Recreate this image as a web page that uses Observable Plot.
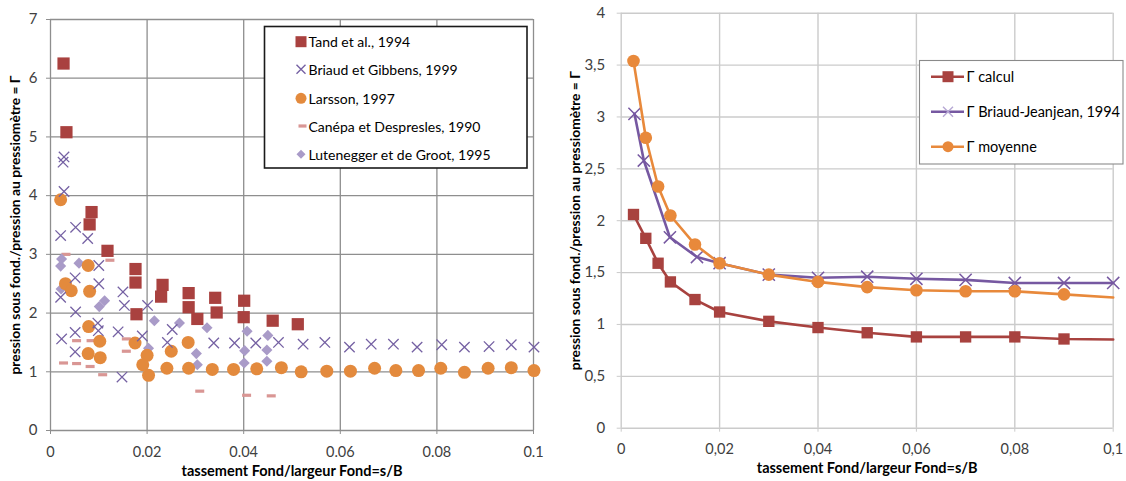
<!DOCTYPE html>
<html>
<head>
<meta charset="utf-8">
<script src="https://cdn.jsdelivr.net/npm/d3@7"></script>
<script src="https://cdn.jsdelivr.net/npm/@observablehq/plot@0.6"></script>
<style>
  html, body { margin: 0; padding: 0; background: #fff; }
  #wrap { position: relative; width: 1126px; height: 481px; overflow: hidden; font-family: Lato, sans-serif; }
  #wrap > div, #wrap > svg { position: absolute; }
</style>
</head>
<body>
<div id="wrap"></div>
<script>
// ---------- LEFT PANEL DATA (s/B, Γ) ----------
const tandX = [0.0027,0.0033,0.0081,0.0085,0.0118,0.0176,0.0176,0.0178,0.0232,0.0229,0.0286,0.0286,0.0304,0.0341,0.0344,0.0401,0.0400,0.0460,0.0512];
const tandY = [6.25,5.08,3.51,3.72,3.06,2.75,2.52,1.98,2.48,2.28,2.34,2.10,1.90,2.26,2.01,2.21,1.93,1.87,1.81];

const briaudX = [0.0028,0.0026,0.0028,0.0021,0.0052,0.0077,0.0100,0.0051,0.0021,0.0100,0.0150,0.0052,0.0153,0.0201,0.0098,0.0099,0.0051,0.0023,0.0140,0.0051,0.0148,0.0190,0.0252,0.0242,0.0338,0.0381,0.0425,0.0472,0.0523,0.0568,0.0619,0.0664,0.0710,0.0759,0.0810,0.0857,0.0908,0.0954,0.1001];
const briaudY = [4.66,4.57,4.07,3.32,3.46,3.27,2.81,2.60,2.27,2.50,2.36,2.02,2.13,2.13,1.83,1.70,1.67,1.56,1.68,1.34,0.91,1.61,1.72,1.50,1.49,1.49,1.49,1.50,1.47,1.50,1.42,1.47,1.47,1.42,1.46,1.42,1.43,1.46,1.42];

const larssonX = [0.0021,0.0031,0.0043,0.0078,0.0081,0.0079,0.0078,0.0102,0.0103,0.0175,0.0200,0.0191,0.0203,0.0241,0.0250,0.0285,0.0286,0.0335,0.0379,0.0427,0.0478,0.0519,0.0572,0.0621,0.0671,0.0715,0.0762,0.0808,0.0857,0.0906,0.0954,0.1001];
const larssonY = [3.93,2.50,2.38,2.81,2.37,1.77,1.31,1.52,1.24,1.49,1.28,1.12,0.94,1.06,1.35,1.50,1.06,1.04,1.04,1.05,1.07,1.00,1.01,1.01,1.06,1.02,1.02,1.06,0.99,1.06,1.07,1.02];

const canepaX = [0.0032,0.0123,0.0054,0.0084,0.0157,0.0157,0.0027,0.0054,0.0082,0.0108,0.0309,0.0406,0.0457];
const canepaY = [3.00,2.90,1.53,1.53,1.56,1.35,1.15,1.14,1.09,0.95,0.67,0.60,0.59];

const lutenX = [0.0023,0.0021,0.0059,0.0022,0.0101,0.0112,0.0215,0.0267,0.0203,0.0324,0.0302,0.0304,0.0407,0.0402,0.0401,0.0450,0.0448,0.0448];
const lutenY = [2.92,2.80,2.85,2.41,2.11,2.21,1.87,1.83,1.40,1.75,1.31,1.12,1.69,1.36,1.15,1.62,1.37,1.18];

const leftSeries = ["Tand et al., 1994","Briaud et Gibbens, 1999","Larsson, 1997","Canépa et Despresles, 1990","Lutenegger et de Groot, 1995"];
const leftXTicks = [0,0.02,0.04,0.06,0.08,0.1];
const leftXLabels = ["0","0.02","0.04","0.06","0.08","0.1"];
const leftYTicks = [0,1,2,3,4,5,6,7];
const leftYLabels = ["0","1","2","3","4","5","6","7"];

// ---------- RIGHT PANEL DATA ----------
const calculX = [0.0025,0.005,0.0075,0.01,0.015,0.02,0.03,0.04,0.05,0.06,0.07,0.08,0.09,0.1];
const calculY = [2.06,1.83,1.59,1.41,1.24,1.12,1.03,0.97,0.92,0.88,0.88,0.88,0.86,0.855];
const bjX = [0.0027,0.0046,0.0099,0.0154,0.02,0.03,0.04,0.05,0.06,0.07,0.08,0.09,0.1];
const bjY = [3.03,2.58,1.84,1.65,1.59,1.48,1.45,1.46,1.44,1.43,1.40,1.40,1.40];
const moyX = [0.0025,0.005,0.0075,0.01,0.015,0.02,0.03,0.04,0.05,0.06,0.07,0.08,0.09,0.1];
const moyY = [3.54,2.80,2.33,2.05,1.77,1.59,1.48,1.41,1.36,1.33,1.32,1.32,1.29,1.26];

const rightSeries = ["Γ calcul","Γ Briaud-Jeanjean, 1994","Γ moyenne"];
const rightXTicks = [0,0.02,0.04,0.06,0.08,0.1];
const rightXLabels = ["0","0,02","0,04","0,06","0,08","0,1"];
const rightYTicks = [0,0.5,1,1.5,2,2.5,3,3.5,4];
const rightYLabels = ["0","0,5","1","1,5","2","2,5","3","3,5","4"];

const xTitle = "tassement Fond/largeur Fond=s/B";
const yTitle = "pression sous fond./pression au pressiomètre = Γ";

// ---------- helpers ----------
const pts = (xs, ys) => xs.map((x, i) => ({x, y: ys[i]}));
const fmt = (ticks, labels) => { const m = new Map(ticks.map((t, i) => [t, labels[i]])); return d => m.get(d); };
const dash = { draw(ctx, size) { ctx.moveTo(-4.5, -1.6); ctx.lineTo(4.5, -1.6); ctx.lineTo(4.5, 1.6); ctx.lineTo(-4.5, 1.6); ctx.closePath(); } };

const C = {
  red: "#a9413f", purple: "#7561a3", orange: "#e38a3d", pink: "#d99694", lav: "#a99bc8",
  rRed: "#a8423f", rPurple: "#7658a1", rOrange: "#e8893b"
};
const textCol = "#404040";

const wrap = document.getElementById("wrap");

// ---------- LEFT CHART ----------
const gridL = "#8e8e8e";
const left = Plot.plot({
  width: 560, height: 481,
  marginLeft: 50, marginRight: 27, marginTop: 19, marginBottom: 51,
  x: {domain: [0, 0.1]},
  y: {domain: [0, 7]},
  style: {fontFamily: "Lato, sans-serif", fontSize: "14px", background: "transparent", overflow: "visible"},
  marks: [
    Plot.gridX(leftXTicks, {stroke: gridL, strokeOpacity: 1, strokeWidth: 1.3}),
    Plot.gridY(leftYTicks, {stroke: gridL, strokeOpacity: 1, strokeWidth: 1.3}),
    Plot.axisX(leftXTicks, {tickFormat: fmt(leftXTicks, leftXLabels), tickSize: 4, tickPadding: 12, stroke: gridL, fill: textCol, label: null, fontSize: 14.5}),
    Plot.axisY(leftYTicks, {tickFormat: fmt(leftYTicks, leftYLabels), tickSize: 4, tickPadding: 9, stroke: gridL, fill: textCol, label: null, fontSize: 15}),
    Plot.dot(pts(canepaX, canepaY), {x: "x", y: "y", symbol: dash, r: 4, fill: C.pink, stroke: "none"}),
    Plot.dot(pts(lutenX, lutenY), {x: "x", y: "y", symbol: "diamond2", r: 5, fill: C.lav, stroke: "none"}),
    Plot.dot(pts(larssonX, larssonY), {x: "x", y: "y", symbol: "circle", r: 6.5, fill: C.orange, stroke: "none"}),
    Plot.dot(pts(briaudX, briaudY), {x: "x", y: "y", symbol: "times", r: 4.8, stroke: C.purple, strokeWidth: 1.3}),
    Plot.dot(pts(tandX, tandY), {x: "x", y: "y", symbol: "square", r: 6.9, fill: C.red, stroke: "none"}),
    Plot.text([xTitle], {text: d => d, frameAnchor: "bottom", dy: 45, fontWeight: "bold", fontSize: 14.5, fill: "#000"}),
    Plot.text([yTitle], {text: d => d, frameAnchor: "left", textAnchor: "middle", dx: -35, rotate: -90, fontWeight: "bold", fontSize: 13.8, fill: "#000"})
  ]
});
left.style.left = "0px"; left.style.top = "0px";
wrap.appendChild(left);

// ---------- RIGHT CHART ----------
const gridR = "#cbcbcb";
const bySeries = [
  {name: rightSeries[0], data: pts(calculX, calculY)},
  {name: rightSeries[1], data: pts(bjX, bjY)},
  {name: rightSeries[2], data: pts(moyX, moyY)}
];
const right = Plot.plot({
  width: 566, height: 481,
  marginLeft: 60.7, marginRight: 13.3, marginTop: 12.7, marginBottom: 53.3,
  x: {domain: [0, 0.1]},
  y: {domain: [0, 4]},
  style: {fontFamily: "Lato, sans-serif", fontSize: "14px", background: "transparent", overflow: "visible"},
  marks: [
    Plot.gridX(rightXTicks, {stroke: gridR, strokeOpacity: 1, strokeWidth: 1.4}),
    Plot.gridY(rightYTicks, {stroke: gridR, strokeOpacity: 1, strokeWidth: 1.4}),
    Plot.axisX(rightXTicks, {tickFormat: fmt(rightXTicks, rightXLabels), tickSize: 4, tickPadding: 12, stroke: gridR, fill: textCol, label: null, fontSize: 14.5}),
    Plot.axisY(rightYTicks, {tickFormat: fmt(rightYTicks, rightYLabels), tickSize: 4, tickPadding: 12, stroke: gridR, fill: textCol, label: null, fontSize: 15}),
    // Γ calcul
    Plot.line(bySeries[0].data, {x: "x", y: "y", stroke: C.rRed, strokeWidth: 2.6}),
    Plot.dot(bySeries[0].data.filter(d => d.x < 0.1), {x: "x", y: "y", symbol: "square", r: 6.4, fill: C.rRed}),
    // Γ Briaud-Jeanjean
    Plot.line(bySeries[1].data, {x: "x", y: "y", stroke: C.rPurple, strokeWidth: 2.6}),
    Plot.dot(bySeries[1].data, {x: "x", y: "y", symbol: "times", r: 5.6, stroke: C.rPurple, strokeWidth: 1.5}),
    // Γ moyenne
    Plot.line(bySeries[2].data, {x: "x", y: "y", stroke: C.rOrange, strokeWidth: 2.6}),
    Plot.dot(bySeries[2].data.filter(d => d.x < 0.1), {x: "x", y: "y", symbol: "circle", r: 6.3, fill: C.rOrange}),
    Plot.text([xTitle], {text: d => d, frameAnchor: "bottom", dy: 45, fontWeight: "bold", fontSize: 14.5, fill: "#000"}),
    Plot.text([yTitle], {text: d => d, frameAnchor: "left", textAnchor: "middle", dx: -46, rotate: -90, fontWeight: "bold", fontSize: 13.8, fill: "#000"})
  ]
});
right.style.left = "560px"; right.style.top = "0px";
wrap.appendChild(right);

// ---------- LEGENDS ----------
const NS = "http://www.w3.org/2000/svg";
function el(tag, attrs, parent) {
  const e = document.createElementNS(NS, tag);
  for (const k in attrs) e.setAttribute(k, attrs[k]);
  parent.appendChild(e);
  return e;
}
// left legend
const lg = el("svg", {width: 1126, height: 481, style: "position:absolute;left:0;top:0;pointer-events:none;font-family:Lato, sans-serif"}, wrap);
el("rect", {x: 264.5, y: 26.5, width: 262.5, height: 141.5, fill: "#fff", stroke: "#1a1a1a", "stroke-width": 1.6}, lg);
const lRows = [41.7, 69.3, 98.3, 126, 154.3];
const symX = 301;
el("rect", {x: symX - 5.5, y: lRows[0] - 5.5, width: 11, height: 11, fill: C.red}, lg);
el("path", {d: `M${symX-4.5},${lRows[1]-4.5}L${symX+4.5},${lRows[1]+4.5}M${symX-4.5},${lRows[1]+4.5}L${symX+4.5},${lRows[1]-4.5}`, stroke: C.purple, "stroke-width": 1.4, fill: "none"}, lg);
el("circle", {cx: symX, cy: lRows[2], r: 5.5, fill: C.orange}, lg);
el("rect", {x: symX - 2.5, y: lRows[3] - 1.6, width: 8, height: 3.2, fill: C.pink}, lg);
el("path", {d: `M${symX},${lRows[4]-4.5}L${symX+4.5},${lRows[4]}L${symX},${lRows[4]+4.5}L${symX-4.5},${lRows[4]}Z`, fill: C.lav}, lg);
leftSeries.forEach((s, i) => {
  const t = el("text", {x: 308.5, y: lRows[i], "dominant-baseline": "central", "font-size": 14, fill: "#000"}, lg);
  t.textContent = s;
});
// right legend
el("rect", {x: 919.5, y: 60.5, width: 203.5, height: 103.5, fill: "#fff", stroke: "#8a8a8a", "stroke-width": 1.1}, lg);
const rRows = [76.7, 111.7, 146.7];
const rCols = [C.rRed, C.rPurple, C.rOrange];
rRows.forEach((y, i) => {
  el("line", {x1: 931, x2: 964, y1: y, y2: y, stroke: rCols[i], "stroke-width": 2.6}, lg);
  const t = el("text", {x: 966.5, y: y, "dominant-baseline": "central", "font-size": 14.5, fill: "#000"}, lg);
  t.textContent = rightSeries[i];
});
el("rect", {x: 942.5, y: rRows[0] - 5.5, width: 11, height: 11, fill: C.rRed}, lg);
el("path", {d: `M${948-5},${rRows[1]-5}L${948+5},${rRows[1]+5}M${948-5},${rRows[1]+5}L${948+5},${rRows[1]-5}`, stroke: "#b6a8d4", "stroke-width": 1.4, fill: "none"}, lg);
el("circle", {cx: 948, cy: rRows[2], r: 5.5, fill: C.rOrange}, lg);
</script>
</body>
</html>
